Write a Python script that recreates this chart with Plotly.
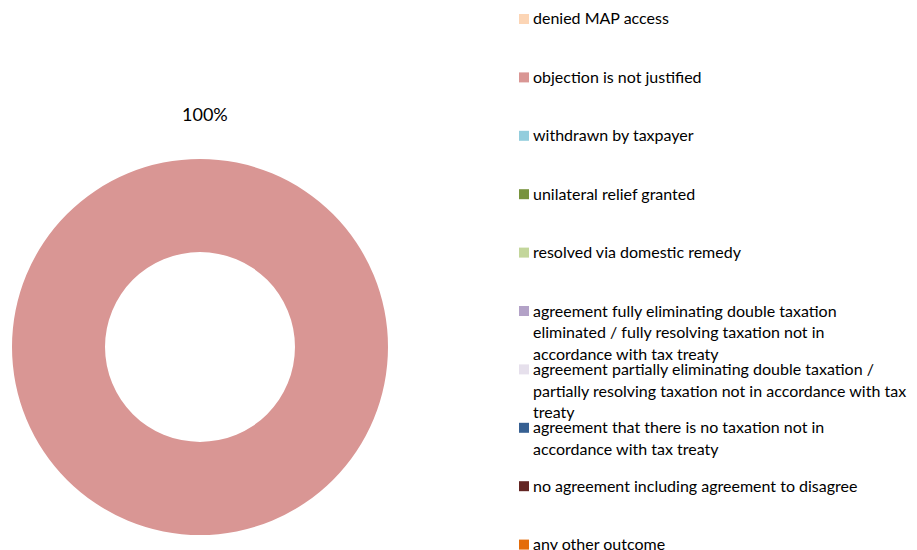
import plotly.graph_objects as go

W, H = 917, 550

labels = [
    "denied MAP access",
    "objection is not justified",
    "withdrawn by taxpayer",
    "unilateral relief granted",
    "resolved via domestic remedy",
    "agreement fully eliminating double taxation<br>eliminated / fully resolving taxation not in<br>accordance with tax treaty",
    "agreement partially eliminating double taxation /<br>partially resolving taxation not in accordance with tax<br>treaty",
    "agreement that there is no taxation not in<br>accordance with tax treaty",
    "no agreement including agreement to disagree",
    "any other outcome",
]
values = [0, 100, 0, 0, 0, 0, 0, 0, 0, 0]
colors = ["#FCD5B5", "#D99694", "#93CDDD", "#77933C", "#C3D69B",
          "#B3A2C7", "#E6E0EC", "#376092", "#632523", "#E46C0A"]

FONT = "Lato"

def px_x(x):
    return x / W

def px_y(y):
    return 1 - y / H

fig = go.Figure(go.Pie(
    labels=labels, values=values, marker=dict(colors=colors, line=dict(width=0)),
    hole=0.505, sort=False, direction="clockwise", textinfo="none",
    showlegend=False, hoverinfo="label+percent",
    domain=dict(x=[px_x(12), px_x(388)], y=[px_y(535), px_y(159)]),
))

annotations = []
shapes = []
total = sum(values)
for v in values:
    if v > 0:
        annotations.append(dict(
            x=px_x(205), y=px_y(114), xref="paper", yref="paper",
            text=f"{round(100 * v / total)}%", showarrow=False,
            font=dict(family=FONT, size=18, color="#000000"),
            xanchor="center", yanchor="middle"))

step = 58.4
line_h = 21.6
for i, (lab, col) in enumerate(zip(labels, colors)):
    yc = 18 + step * i
    shapes.append(dict(type="rect", xref="paper", yref="paper",
                       x0=px_x(519), x1=px_x(529), y0=px_y(yc + 6), y1=px_y(yc - 4),
                       fillcolor=col, line=dict(width=0)))
    for j, line in enumerate(lab.split("<br>")):
        annotations.append(dict(
            x=px_x(531), y=px_y(yc + line_h * j), xref="paper", yref="paper",
            text=line, showarrow=False, xanchor="left", yanchor="middle",
            font=dict(family=FONT, size=16, color="#000000")))

fig.update_layout(
    width=W, height=H, margin=dict(l=0, r=0, t=0, b=0),
    paper_bgcolor="white", plot_bgcolor="white",
    annotations=annotations, shapes=shapes,
    font=dict(family=FONT),
)

fig.write_html("out.html")
